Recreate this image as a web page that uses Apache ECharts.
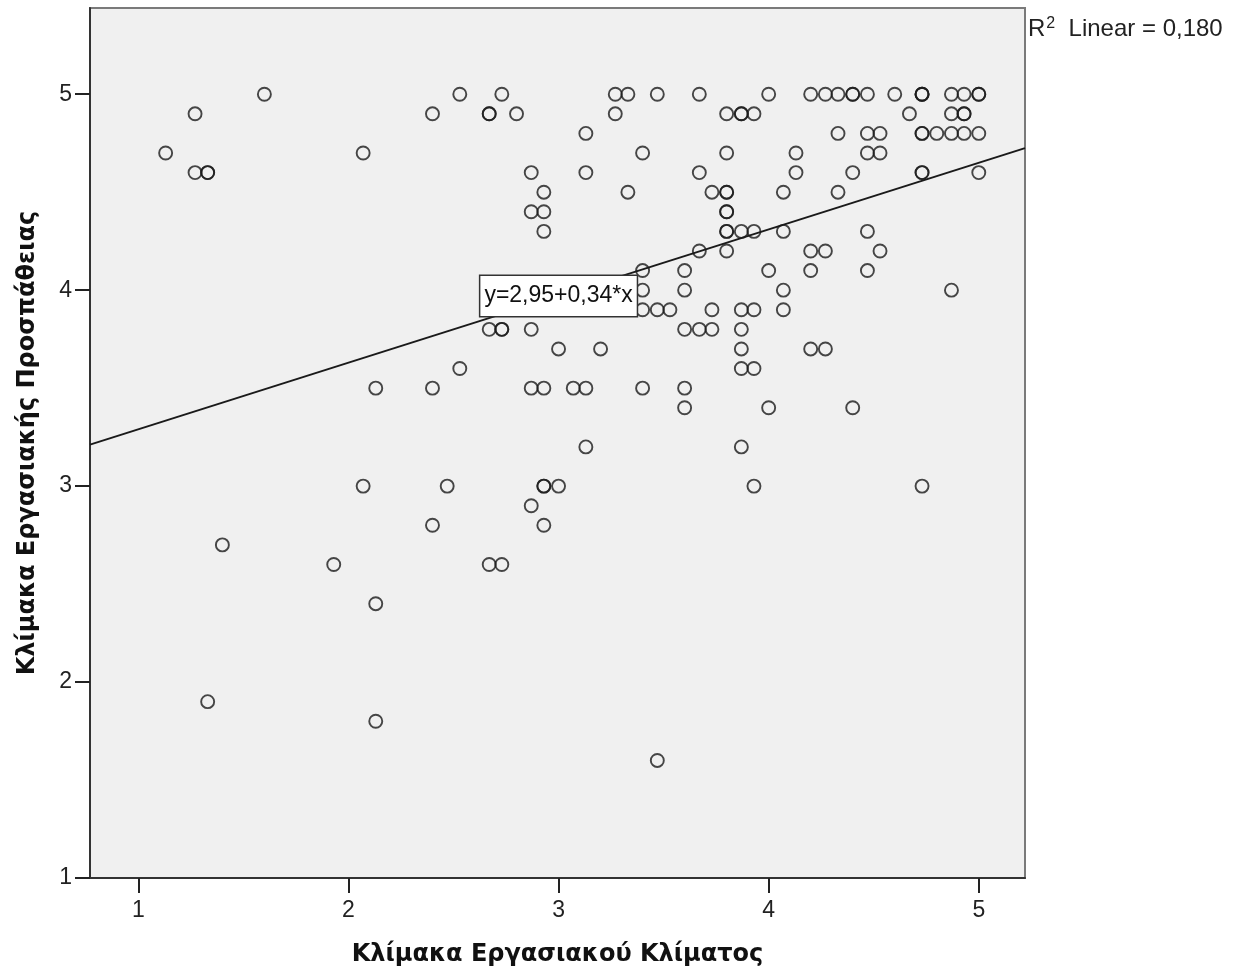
<!DOCTYPE html>
<html>
<head>
<meta charset="utf-8">
<title>Κλίμακα Εργασιακής Προσπάθειας / Κλίμακα Εργασιακού Κλίματος</title>
<script src="https://cdn.jsdelivr.net/npm/echarts@6/dist/echarts.min.js"></script>
<style>
  html, body { margin: 0; padding: 0; background: #ffffff; }
  #chart { width: 1250px; height: 976px; }
</style>
</head>
<body>
<div id="chart"></div>
<script>
// Effort scale levels (y) and the climate scores (x) of respondents at each level
const effortLevels = [5, 4.9, 4.8, 4.7, 4.6, 4.5, 4.4, 4.3, 4.2, 4.1, 4.0, 3.9, 3.8, 3.7, 3.6, 3.5, 3.4, 3.2, 3.0, 2.9, 2.8, 2.7, 2.6, 2.4, 1.9, 1.8, 1.6];
const climateAtLevel = [
  [1.6, 2.53, 2.73, 3.27, 3.33, 3.47, 3.67, 4, 4.2, 4.27, 4.33, 4.4, 4.4, 4.47, 4.6, 4.73, 4.73, 4.73, 4.87, 4.93, 5, 5],
  [1.27, 2.4, 2.67, 2.67, 2.8, 3.27, 3.8, 3.87, 3.87, 3.93, 4.67, 4.87, 4.93, 4.93],
  [3.13, 4.33, 4.47, 4.53, 4.73, 4.73, 4.8, 4.87, 4.93, 5],
  [1.13, 2.07, 3.4, 3.8, 4.13, 4.47, 4.53],
  [1.27, 1.33, 1.33, 2.87, 3.13, 3.67, 4.13, 4.4, 4.73, 4.73, 5],
  [2.93, 3.33, 3.73, 3.8, 3.8, 4.07, 4.33],
  [2.87, 2.93, 3.8, 3.8],
  [2.93, 3.8, 3.8, 3.87, 3.93, 4.07, 4.47],
  [3.67, 3.8, 4.2, 4.27, 4.53],
  [3.4, 3.6, 4, 4.2, 4.47],
  [3.4, 3.6, 4.07, 4.87],
  [3.4, 3.47, 3.53, 3.73, 3.87, 3.93, 4.07],
  [2.67, 2.73, 2.73, 2.87, 3.6, 3.67, 3.73, 3.87],
  [3, 3.2, 3.87, 4.2, 4.27],
  [2.53, 3.87, 3.93],
  [2.13, 2.4, 2.87, 2.93, 3.07, 3.13, 3.4, 3.6],
  [3.6, 4, 4.4],
  [3.13, 3.87],
  [2.07, 2.47, 2.93, 2.93, 3, 3.93, 4.73],
  [2.87],
  [2.4, 2.93],
  [1.4],
  [1.93, 2.67, 2.73],
  [2.13],
  [1.33],
  [2.13],
  [3.47]
];

// Linear fit reported for the data
const fitIntercept = 2.95;
const fitSlope = 0.34;
const fitLabel = 'y=2,95+0,34*x';
const fitLabelAtX = 3;
const rSquaredText = '0,180';

// Axis ranges and tick labels
const xRange = [0.77, 5.22];
const yRange = [1, 5.44];
const xTicks = [1, 2, 3, 4, 5];
const yTicks = [1, 2, 3, 4, 5];

const xTitle = 'Κλίμακα Εργασιακού Κλίματος';
const yTitle = 'Κλίμακα Εργασιακής Προσπάθειας';

const points = [];
effortLevels.forEach((y, i) => {
  climateAtLevel[i].forEach(x => points.push([x, y]));
});

const fitLine = [
  [xRange[0], fitIntercept + fitSlope * xRange[0]],
  [xRange[1], fitIntercept + fitSlope * xRange[1]]
];

const grid = { left: 90, right: 225, top: 8, bottom: 98 };

const chart = echarts.init(document.getElementById('chart'), null, { renderer: 'canvas' });

const tickFont = { fontFamily: 'Liberation Sans', fontSize: 23, color: '#222' };
const titleFont = { fontFamily: 'DejaVu Sans', fontWeight: 'bold', fontSize: 24, color: '#111' };

chart.setOption({
  backgroundColor: '#ffffff',
  animation: false,
  grid: {
    left: grid.left, right: grid.right, top: grid.top, bottom: grid.bottom,
    show: true,
    backgroundColor: '#f0f0f0',
    borderColor: '#7a7a7a',
    borderWidth: 2
  },
  xAxis: {
    type: 'value',
    min: xRange[0], max: xRange[1],
    name: xTitle,
    nameLocation: 'middle',
    nameGap: 65,
    nameTextStyle: titleFont,
    axisLine: { show: true, onZero: false, lineStyle: { color: '#333', width: 2 } },
    axisTick: { show: true, length: 15, customValues: xTicks, lineStyle: { color: '#222', width: 2 } },
    axisLabel: Object.assign({ margin: 21, customValues: xTicks }, tickFont),
    splitLine: { show: false }
  },
  yAxis: {
    type: 'value',
    min: yRange[0], max: yRange[1],
    name: yTitle,
    nameLocation: 'middle',
    nameGap: 50,
    nameTextStyle: titleFont,
    axisLine: { show: true, onZero: false, lineStyle: { color: '#333', width: 2 } },
    axisTick: { show: true, length: 15, customValues: yTicks, lineStyle: { color: '#222', width: 2 } },
    axisLabel: Object.assign({ margin: 18, customValues: yTicks }, tickFont),
    splitLine: { show: false }
  },
  series: [
    {
      type: 'scatter',
      data: points,
      symbol: 'circle',
      symbolSize: 13,
      itemStyle: { color: 'rgba(0,0,0,0)', borderColor: '#1a1a1a', borderWidth: 1.9 },
      z: 2
    },
    {
      type: 'line',
      data: fitLine,
      symbol: 'none',
      lineStyle: { color: '#1a1a1a', width: 2 },
      z: 3,
      markPoint: {
        symbol: 'rect',
        symbolSize: 0,
        data: [{ coord: [fitLabelAtX, fitIntercept + fitSlope * fitLabelAtX] }],
        label: {
          show: true,
          position: 'inside',
          formatter: fitLabel,
          fontFamily: 'Liberation Sans',
          fontSize: 23,
          color: '#111',
          backgroundColor: '#ffffff',
          borderColor: '#333',
          borderWidth: 1.5,
          padding: [9, 4, 8, 4]
        },
        z: 5
      }
    }
  ],
  graphic: [
    {
      type: 'text',
      left: 1028,
      top: 16,
      style: {
        text: '{r|R}{sup|2}{r|  Linear = ' + rSquaredText + '}',
        rich: {
          r: { fontFamily: 'Liberation Sans', fontSize: 24, fill: '#222', verticalAlign: 'bottom' },
          sup: { fontFamily: 'Liberation Sans', fontSize: 16, fill: '#222', verticalAlign: 'top', padding: [0, 0, 9, 1] }
        }
      }
    }
  ]
});
</script>
</body>
</html>
